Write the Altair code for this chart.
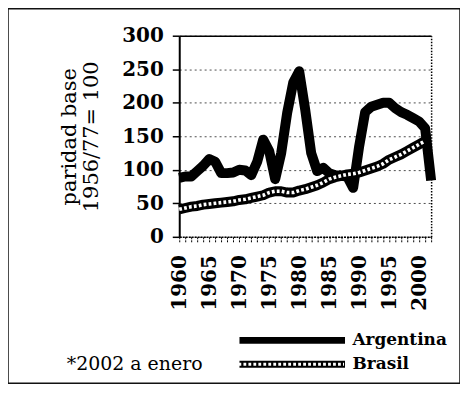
import altair as alt
import pandas as pd

years = list(range(1960, 2003))
argentina = [88, 90, 90, 98, 106, 116, 112, 95, 95, 96,
             100, 99, 92, 112, 145, 128, 86, 125, 185, 230,
             247, 190, 125, 98, 103, 95, 92, 91, 90, 73,
             135, 186, 194, 197, 200, 200, 192, 186, 182, 177,
             172, 162, 84]
brasil = [41, 43, 45, 46, 48, 49, 50, 51, 52, 53,
          55, 56, 58, 60, 62, 66, 68, 68, 66, 66,
          69, 71, 74, 77, 81, 86, 89, 91, 93, 94,
          96, 99, 102, 105, 109, 115, 119, 123, 128, 133,
          138, 143, None]
series = ["Argentina", "Brasil"]
y_ticks = [0, 50, 100, 150, 200, 250, 300]
label_every = 5
y_title = ["paridad base", "1956/77= 100"]
note = "*2002 a enero"

rows = []
for name, vals in zip(series, [argentina, brasil]):
    for yr, v in zip(years, vals):
        if v is not None:
            rows.append({"year": yr, "value": v, "country": name})
df = pd.DataFrame(rows)

FONT = "DejaVu Serif"
W, H = 454, 376
PX0, PX1 = 172, 425
PY0, PY1 = 229, 27
LEG_X, LEG_Y, ROW_H, ROW_PAD = 229, 324, 18, 6
NOTE_X = 59
SYM = 106 * 106

x_scale = alt.Scale(domain=[years[0], years[-1]], range=[PX0, PX1], nice=False, zero=False)
y_scale = alt.Scale(domain=[y_ticks[0], y_ticks[-1]], range=[PY0, PY1], nice=False)

common_leg = dict(
    orient="none", padding=0, clipHeight=ROW_H,
    labelFont=FONT, labelFontSize=17, labelFontWeight="bold", labelColor="black",
    labelOffset=4, symbolType="stroke", symbolSize=SYM, rowPadding=ROW_PAD,
)

base = alt.Chart(df)

lines = base.mark_line(strokeWidth=10, strokeJoin="round").encode(
    x=alt.X("year:Q", scale=x_scale, axis=alt.Axis(
        orient="bottom", offset=-(H - PY0), values=years,
        labelExpr=f"datum.value % {label_every} == 0 ? '' + datum.value : ''",
        labelAngle=-90, labelOverlap=False, labelFlush=False,
        labelFont=FONT, labelFontSize=20, labelFontWeight="bold", labelColor="black",
        labelPadding=12, tickSize=6, tickColor="black", tickDash=[2, 1], tickWidth=1,
        domainColor="black", domainDash=[2, 1], domainWidth=1.5, grid=False, title=None)),
    y=alt.Y("value:Q", scale=y_scale, axis=alt.Axis(
        orient="left", offset=-PX0, values=y_ticks,
        labelFont=FONT, labelFontSize=20, labelFontWeight="bold", labelColor="black",
        labelPadding=9, tickSize=7, tickColor="black", tickWidth=1.5,
        domainColor="black", domainWidth=2,
        grid=True, gridColor="black", gridDash=[2, 3], gridWidth=1, gridOpacity=0.7,
        title=y_title, titleFont=FONT, titleFontSize=21, titleFontWeight="normal",
        titleColor="black", titlePadding=20, titleLineHeight=22)),
    color=alt.Color("country:N", scale=alt.Scale(domain=series, range=["black", "black"]),
                    legend=alt.Legend(legendX=LEG_X, legendY=LEG_Y, title=None,
                                      symbolStrokeWidth=7, symbolStrokeColor="black",
                                      **common_leg)),
    order=alt.Order("year:Q"),
)

overlay = base.transform_filter(alt.datum.country == series[1]).mark_line(
    color="white", strokeWidth=3.6, strokeCap="butt", strokeJoin="round"
).encode(
    x=alt.X("year:Q", scale=x_scale, axis=alt.Axis(
        orient="top", offset=-PY1, labels=False, ticks=False, grid=False,
        domainColor="black", domainWidth=1.5, title=None)),
    y=alt.Y("value:Q", scale=y_scale, axis=alt.Axis(
        orient="right", offset=-(W - PX1), labels=False, ticks=False, grid=False,
        domainColor="black", domainDash=[1.5, 1.5], domainWidth=1.5, title=None)),
    strokeDash=alt.StrokeDash("country:N",
                              scale=alt.Scale(domain=[series[1]], range=[[2.8, 2.2]]),
                              legend=alt.Legend(legendX=NOTE_X, legendY=LEG_Y + ROW_H + ROW_PAD,
                                                title=note, titleOrient="left",
                                                titlePadding=34, titleFont=FONT,
                                                titleFontSize=19, titleFontWeight="normal",
                                                titleColor="black", titleBaseline="middle",
                                                titleAnchor="middle",
                                                symbolStrokeWidth=3,
                                                symbolStrokeColor="white",
                                                labelExpr="''", **common_leg)),
    order=alt.Order("year:Q"),
)

chart = alt.layer(lines, overlay).resolve_axis(x="independent", y="independent").properties(
    width=W, height=H, padding=0, autosize=alt.AutoSizeParams(type="none"),
).configure_view(stroke="#111", strokeWidth=1.5)

chart.save("out.html", embed_options={"renderer": "svg", "actions": False})
